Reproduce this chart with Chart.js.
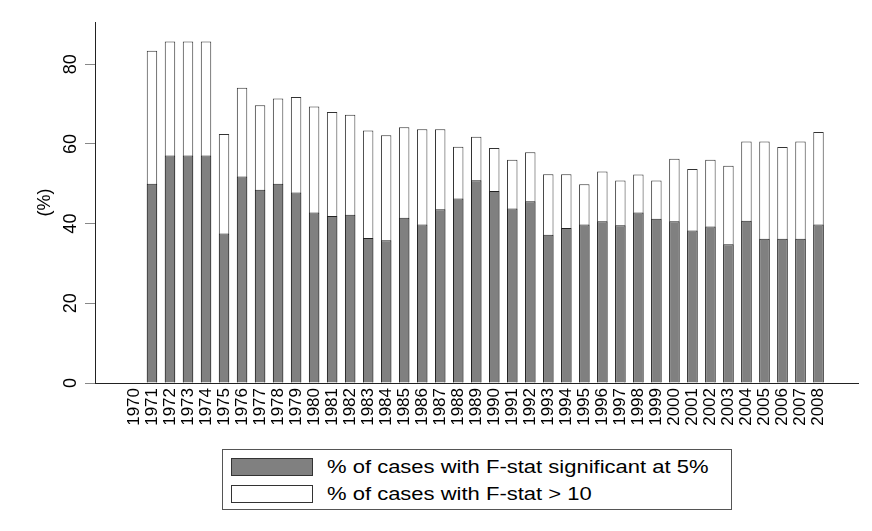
<!DOCTYPE html>
<html>
<head>
<meta charset="utf-8">
<script src="https://cdn.jsdelivr.net/npm/chart.js@4"></script>
<style>
  body { margin: 0; background: #fff; }
  #wrap { position: relative; width: 872px; height: 531px; }
  #legend {
    position: absolute; left: 222px; top: 449px; width: 508px; height: 59px;
    border: 1px solid #555; background: #fff;
    font-family: "Liberation Sans", Arial, sans-serif; font-size: 22px; color: #000;
  }
  .item { position: absolute; left: 8px; height: 18px; }
  .sw { position: absolute; left: 0; top: 0; width: 80px; height: 16px; border: 1px solid #333; }
  .lab {
    position: absolute; left: 96px; top: 0; height: 18px; line-height: 18px;
    white-space: nowrap; transform: scaleY(0.85); transform-origin: left center;
  }
</style>
</head>
<body>
<div id="wrap">
  <canvas id="chart" width="872" height="531"></canvas>
  <div id="legend"></div>
</div>
<script>
// years on the x axis
const years = [1970, 1971, 1972, 1973, 1974, 1975, 1976, 1977, 1978, 1979,
  1980, 1981, 1982, 1983, 1984, 1985, 1986, 1987, 1988, 1989,
  1990, 1991, 1992, 1993, 1994, 1995, 1996, 1997, 1998, 1999,
  2000, 2001, 2002, 2003, 2004, 2005, 2006, 2007, 2008];

// % of cases with F-stat significant at 5% (grey bars)
const sig5 = [null, 50, 57.1, 57.1, 57.1, 37.5, 51.8, 48.5, 50, 47.8,
  42.8, 41.9, 42.2, 36.4, 35.8, 41.5, 39.8, 43.6, 46.3, 50.9,
  48.2, 43.8, 45.6, 37.2, 38.9, 39.8, 40.6, 39.6, 42.8, 41.2,
  40.6, 38.3, 39.3, 34.8, 40.7, 36.2, 36.2, 36.2, 39.8];

// % of cases with F-stat > 10 (white bars)
const fOver10 = [null, 83.4, 85.7, 85.7, 85.7, 62.5, 74.1, 69.7, 71.4, 71.8,
  69.4, 68, 67.3, 63.4, 62.2, 64.2, 63.7, 63.7, 59.3, 61.8,
  59, 56, 57.9, 52.4, 52.4, 49.9, 53.1, 50.8, 52.3, 50.8,
  56.3, 53.7, 56, 54.5, 60.6, 60.6, 59.2, 60.6, 63];

const yTicks = [0, 20, 40, 60, 80];

const seriesNames = ["% of cases with F-stat significant at 5%", "% of cases with F-stat > 10"];
const seriesColors = ["#808080", "#ffffff"];

const FONT = "'Liberation Sans', Arial, sans-serif";

const toPoints = (vals) => years.map((yr, i) => ({ x: yr, y: vals[i] }));

const ctx = document.getElementById("chart").getContext("2d");

new Chart(ctx, {
  type: "bar",
  data: {
    datasets: [
      {
        label: seriesNames[0],
        data: toPoints(sig5),
        backgroundColor: seriesColors[0],
        borderColor: "#222",
        borderWidth: 1,
        grouped: false,
        barPercentage: 0.58,
        categoryPercentage: 1,
      },
      {
        label: seriesNames[1],
        data: toPoints(fOver10),
        backgroundColor: seriesColors[1],
        borderColor: "#333",
        borderWidth: 1,
        grouped: false,
        barPercentage: 0.58,
        categoryPercentage: 1,
      },
    ],
  },
  options: {
    responsive: false,
    animation: false,
    layout: { padding: { top: 22, right: 14, bottom: 0, left: 0 } },
    plugins: {
      legend: { display: false },
      tooltip: { enabled: false },
    },
    scales: {
      x: {
        type: "linear",
        min: 1968.38,
        max: 2009.65,
        afterBuildTicks: (scale) => {
          scale.ticks = years.map((v) => ({ value: v }));
        },
        afterFit: (scale) => {
          // room under the axis for the year labels and the legend
          scale.height = 148;
        },
        grid: { display: false, drawTicks: false },
        border: { display: true, color: "#222", width: 1 },
        ticks: {
          autoSkip: false,
          minRotation: 90,
          maxRotation: 90,
          padding: 5,
          color: "#000",
          font: { family: FONT, size: 17 },
          callback: (value) => String(value),
        },
      },
      y: {
        min: 0,
        max: 90.6,
        afterBuildTicks: (scale) => {
          scale.ticks = yTicks.map((v) => ({ value: v }));
        },
        afterFit: (scale) => {
          scale.width = 95;
        },
        grid: { drawOnChartArea: false, drawTicks: true, tickLength: 10, color: "#888" },
        border: { display: true, color: "#222", width: 1 },
        title: {
          display: true,
          text: "(%)",
          color: "#000",
          font: { family: FONT, size: 18 },
          padding: { top: 34, bottom: 0 },
        },
        ticks: {
          minRotation: 90,
          maxRotation: 90,
          crossAlign: "center",
          padding: 4,
          color: "#000",
          font: { family: FONT, size: 18 },
        },
      },
    },
  },
});

// legend box below the plot, swatches stacked like the original
const legend = document.getElementById("legend");
seriesNames.forEach((name, i) => {
  const item = document.createElement("div");
  item.className = "item";
  item.style.top = (i === 0 ? 8 : 35) + "px";
  const sw = document.createElement("div");
  sw.className = "sw";
  sw.style.background = seriesColors[i];
  const lab = document.createElement("div");
  lab.className = "lab";
  lab.textContent = name;
  item.appendChild(sw);
  item.appendChild(lab);
  legend.appendChild(item);
});
</script>
</body>
</html>
